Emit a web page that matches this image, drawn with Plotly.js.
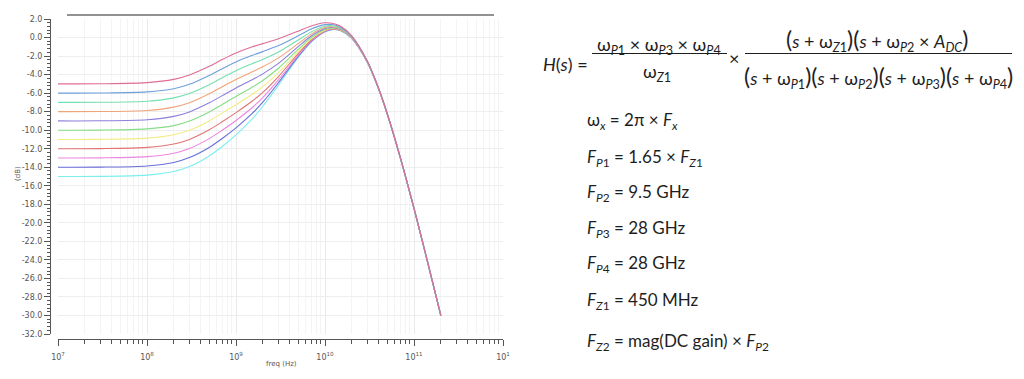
<!DOCTYPE html>
<html>
<head>
<meta charset="utf-8">
<script src="https://cdn.plot.ly/plotly-3.0.1.min.js"></script>
<style>html,body{margin:0;padding:0;background:#fff;}#chart{width:1024px;height:379px;}</style>
</head>
<body>
<div id="chart"></div>
<script>
// ---- data ----
const freq = [1e7, 3e7, 1e8, 2e8, 3e8, 5e8, 7e8, 1e9, 1.5e9, 2e9, 3e9, 5e9, 7e9, 1e10, 1.2e10, 1.5e10, 2e10, 3e10, 4e10, 5e10, 7e10, 1e11, 1.5e11, 2e11];
const dcGainLabels = ["-5 dB", "-6 dB", "-7 dB", "-8 dB", "-9 dB", "-10 dB", "-11 dB", "-12 dB", "-13 dB", "-14 dB", "-15 dB"];
const g_m5  = [-5.00, -4.99, -4.87, -4.52, -4.05, -3.11, -2.38, -1.67, -1.03, -0.66, -0.13, 0.69, 1.25, 1.59, 1.55, 1.21, 0.18, -2.57, -5.47, -8.20, -12.91, -18.45, -25.12, -29.98];
const g_m6  = [-6.00, -5.99, -5.87, -5.52, -5.05, -4.10, -3.36, -2.63, -1.95, -1.52, -0.87, 0.18, 0.91, 1.39, 1.40, 1.10, 0.12, -2.60, -5.49, -8.21, -12.92, -18.45, -25.12, -29.98];
const g_m7  = [-7.00, -6.99, -6.87, -6.51, -6.04, -5.09, -4.33, -3.58, -2.85, -2.36, -1.56, -0.26, 0.61, 1.22, 1.27, 1.02, 0.07, -2.62, -5.50, -8.22, -12.92, -18.45, -25.12, -29.98];
const g_m8  = [-8.00, -7.99, -7.87, -7.51, -7.04, -6.07, -5.31, -4.52, -3.73, -3.16, -2.20, -0.66, 0.37, 1.08, 1.17, 0.95, 0.03, -2.64, -5.51, -8.22, -12.92, -18.45, -25.12, -29.98];
const g_m9  = [-9.00, -8.99, -8.87, -8.51, -8.03, -7.05, -6.27, -5.45, -4.58, -3.92, -2.79, -0.99, 0.16, 0.97, 1.09, 0.90, 0.00, -2.65, -5.52, -8.23, -12.93, -18.45, -25.12, -29.98];
const g_m10 = [-10.00, -9.99, -9.86, -9.51, -9.02, -8.03, -7.22, -6.36, -5.39, -4.64, -3.32, -1.28, -0.01, 0.87, 1.03, 0.86, -0.02, -2.66, -5.53, -8.23, -12.93, -18.45, -25.12, -29.98];
const g_m11 = [-11.00, -10.99, -10.86, -10.50, -10.01, -9.00, -8.16, -7.25, -6.18, -5.30, -3.79, -1.53, -0.15, 0.80, 0.97, 0.82, -0.04, -2.67, -5.53, -8.23, -12.93, -18.45, -25.12, -29.98];
const g_m12 = [-12.00, -11.99, -11.86, -11.49, -11.00, -9.96, -9.09, -8.11, -6.91, -5.92, -4.21, -1.73, -0.27, 0.74, 0.93, 0.80, -0.06, -2.68, -5.53, -8.23, -12.93, -18.45, -25.12, -29.98];
const g_m13 = [-13.00, -12.99, -12.86, -12.49, -11.98, -10.91, -10.00, -8.95, -7.61, -6.48, -4.57, -1.90, -0.36, 0.69, 0.90, 0.77, -0.07, -2.69, -5.54, -8.24, -12.93, -18.45, -25.12, -29.98];
const g_m14 = [-14.00, -13.99, -13.86, -13.48, -12.96, -11.86, -10.90, -9.75, -8.25, -6.98, -4.88, -2.04, -0.44, 0.65, 0.87, 0.76, -0.08, -2.69, -5.54, -8.24, -12.93, -18.45, -25.12, -29.98];
const g_m15 = [-15.00, -14.99, -14.85, -14.46, -13.93, -12.78, -11.76, -10.51, -8.84, -7.42, -5.14, -2.15, -0.50, 0.62, 0.85, 0.74, -0.09, -2.69, -5.54, -8.24, -12.93, -18.45, -25.12, -29.98];
const yTickVals = [2, 0, -2, -4, -6, -8, -10, -12, -14, -16, -18, -20, -22, -24, -26, -28, -30, -32];
const yTickText = ["2.0", "0.0", "-2.0", "-4.0", "-6.0", "-8.0", "-10.0", "-12.0", "-14.0", "-16.0", "-18.0", "-20.0", "-22.0", "-24.0", "-26.0", "-28.0", "-30.0", "-32.0"];
const xTickVals = [1e7, 1e8, 1e9, 1e10, 1e11, 1e12];
const xTickText = ["10<sup>7</sup>", "10<sup>8</sup>", "10<sup>9</sup>", "10<sup>10</sup>", "10<sup>11</sup>", "10<sup>1</sup>"];

// ---- styles ----
const series = [g_m5, g_m6, g_m7, g_m8, g_m9, g_m10, g_m11, g_m12, g_m13, g_m14, g_m15];
const colors = ["#e06c98", "#6f9fdc", "#74e0ae", "#efa57a", "#8d7fdc", "#86dd86", "#f2ec84", "#e27474", "#ee86e0", "#6a6ed8", "#7ceeee"];

const traces = [];
for (let i = series.length - 1; i >= 0; i--) {
  traces.push({
    x: freq, y: series[i], name: dcGainLabels[i], type: 'scatter', mode: 'lines',
    line: {color: colors[i], width: 1.1, shape: 'spline', smoothing: 0.8},
    hoverinfo: 'skip', showlegend: false
  });
}

// pixel -> paper helpers (paper spans x 50..503, y 19..339)
const L = 50, R = 503, T = 19, B = 339;
const px = X => (X - L) / (R - L);
const py = Y => (B - Y) / (B - T);

const EQF = {family: 'Lato, "Open Sans", sans-serif', size: 18, color: '#1e1e1e'};
const LSF = {family: 'Lato, "Open Sans", sans-serif', size: 17, color: '#1e1e1e'};
function ann(text, X, Y, xanchor, font) {
  return {text: text, x: px(X), y: py(Y), xref: 'paper', yref: 'paper',
    xanchor: xanchor || 'left', yanchor: 'middle', showarrow: false, font: font || EQF};
}
const P = s => '<span style="font-size:23px">' + s + '</span>';
const w = sub => 'ω<sub>' + sub + '</sub>';
const annotations = [
  ann('<i>H</i>(<i>s</i>) =', 541, 64),
  ann(w('<i>P</i>1') + ' × ' + w('<i>P</i>3') + ' × ' + w('<i>P</i>4'), 659, 45, 'center'),
  ann(w('<i>Z</i>1'), 657, 73, 'center'),
  ann('×', 734, 58, 'center'),
  ann(P('(') + '<i>s</i> + ' + w('<i>Z</i>1') + P(')') + P('(') + '<i>s</i> + ' + w('<i>P</i>2') + ' × <i>A</i><sub><i>DC</i></sub>' + P(')'), 877, 40, 'center'),
  ann(P('(') + '<i>s</i> + ' + w('<i>P</i>1') + P(')') + P('(') + '<i>s</i> + ' + w('<i>P</i>2') + P(')') + P('(') + '<i>s</i> + ' + w('<i>P</i>3') + P(')') + P('(') + '<i>s</i> + ' + w('<i>P</i>4') + P(')'), 878, 77, 'center'),
  ann('ω<sub><i>x</i></sub> = 2π × <i>F</i><sub><i>x</i></sub>', 585, 121, 'left', LSF),
  ann('<i>F</i><sub><i>P</i>1</sub> = 1.65 × <i>F</i><sub><i>Z</i>1</sub>', 585, 158, 'left', LSF),
  ann('<i>F</i><sub><i>P</i>2</sub> = 9.5 GHz', 585, 193, 'left', LSF),
  ann('<i>F</i><sub><i>P</i>3</sub> = 28 GHz', 585, 229, 'left', LSF),
  ann('<i>F</i><sub><i>P</i>4</sub> = 28 GHz', 585, 264, 'left', LSF),
  ann('<i>F</i><sub><i>Z</i>1</sub> = 450 MHz', 585, 301, 'left', LSF),
  ann('<i>F</i><sub><i>Z</i>2</sub> = mag(DC gain) × <i>F</i><sub><i>P</i>2</sub>', 585, 342, 'left', LSF),
  {text: 'freq (Hz)', x: px(281), y: py(364), xref: 'paper', yref: 'paper', xanchor: 'center', yanchor: 'middle',
   showarrow: false, font: {family: 'DejaVu Sans', size: 7, color: '#555'}},
  {text: '(dB)', x: px(18), y: py(174), xref: 'paper', yref: 'paper', xanchor: 'center', yanchor: 'middle',
   textangle: -90, showarrow: false, font: {family: 'DejaVu Sans', size: 7, color: '#555'}}
];

const shapes = [
  {type: 'line', xref: 'paper', yref: 'paper', x0: px(67), x1: px(494), y0: py(15), y1: py(15), line: {color: '#6e6e6e', width: 1.6}},
  {type: 'line', xref: 'paper', yref: 'paper', x0: px(592), x1: px(727), y0: py(53.5), y1: py(53.5), line: {color: '#1e1e1e', width: 1.2}},
  {type: 'line', xref: 'paper', yref: 'paper', x0: px(745), x1: px(1012), y0: py(53.5), y1: py(53.5), line: {color: '#1e1e1e', width: 1.2}}
];

const tickFont = {family: 'DejaVu Sans, sans-serif', size: 8, color: '#555'};
const layout = {
  width: 1024, height: 379,
  margin: {l: L, r: 1024 - R, t: T, b: 379 - B, pad: 0},
  paper_bgcolor: '#ffffff', plot_bgcolor: '#ffffff',
  showlegend: false,
  xaxis: {
    type: 'log', range: [7, 12], domain: [8 / (R - L), 1], anchor: 'free', position: 0,
    tickmode: 'array', tickvals: xTickVals, ticktext: xTickText,
    ticks: 'outside', ticklen: 6, tickcolor: '#555', tickwidth: 1,
    showline: true, linecolor: '#555', linewidth: 1, mirror: false,
    showgrid: true, gridcolor: '#e9e9e9', gridwidth: 1, zeroline: false,
    tickfont: tickFont, ticklabelstandoff: 4,
    minor: {dtick: 'D1', ticks: 'outside', ticklen: 4, tickcolor: '#555', showgrid: true, gridcolor: '#f4f4f4'}
  },
  yaxis: {
    range: [-32, 2], domain: [5 / (B - T), 1], anchor: 'free', position: 0,
    tickmode: 'array', tickvals: yTickVals, ticktext: yTickText,
    ticks: 'outside', ticklen: 6, tickcolor: '#555', tickwidth: 1,
    showline: true, linecolor: '#555', linewidth: 1,
    showgrid: true, gridcolor: '#eeeeee', zeroline: false,
    tickfont: tickFont,
    minor: {dtick: 0.4, tick0: 0, ticks: 'outside', ticklen: 3, tickcolor: '#555', showgrid: false}
  },
  annotations: annotations,
  shapes: shapes
};

Plotly.newPlot('chart', traces, layout, {staticPlot: true, displayModeBar: false});
</script>
</body>
</html>
